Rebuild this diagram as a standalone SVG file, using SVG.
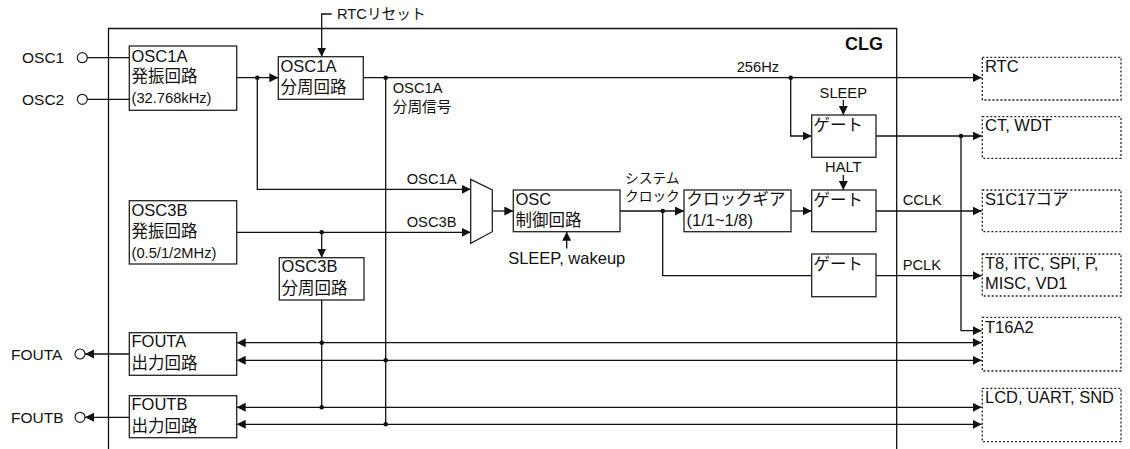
<svg xmlns="http://www.w3.org/2000/svg" width="1130" height="449" viewBox="0 0 1130 449">
<style>
text{font-family:"Liberation Sans","Noto Sans CJK JP",sans-serif;fill:#111}
.b{font-size:16.5px}
.s{font-size:14.7px}
.box{fill:#fff;stroke:#222;stroke-width:1.3}
.dbox{fill:none;stroke:#222;stroke-width:1.3;stroke-dasharray:2 2}
.ln{fill:none;stroke:#111;stroke-width:1.3}
.a{marker-end:url(#ah)}
.aa{marker-end:url(#ah);marker-start:url(#ah)}
.dot{fill:#111}
</style>
<defs>
<marker id="ah" markerUnits="userSpaceOnUse" markerWidth="10" markerHeight="10" refX="9" refY="4.5" orient="auto-start-reverse"><path d="M0,0 L9,4.5 L0,9 z" fill="#111"/></marker>
</defs>

<g id="clg-frame">
<path class="ln" d="M108.5,449 V28.5 H896.7 V449"/>
<text x="883" y="50" text-anchor="end" style="font-size:18px;font-weight:bold">CLG</text>
</g>

<g id="pins">
<text class="b" x="22" y="63" style="font-size:15.5px">OSC1</text>
<circle cx="82.3" cy="57.7" r="5" fill="#fff" stroke="#222" stroke-width="1.2"/>
<text class="b" x="22" y="105" style="font-size:15.5px">OSC2</text>
<circle cx="82.3" cy="99.3" r="5" fill="#fff" stroke="#222" stroke-width="1.2"/>
<text class="b" x="11" y="360" style="font-size:15.5px">FOUTA</text>
<circle cx="80" cy="354" r="5" fill="#fff" stroke="#222" stroke-width="1.2"/>
<text class="b" x="11" y="423" style="font-size:15.5px">FOUTB</text>
<circle cx="80" cy="417.3" r="5" fill="#fff" stroke="#222" stroke-width="1.2"/>
</g>

<g id="connectors">
<path class="ln" d="M87.3,57.7 H129.3"/>
<path class="ln" d="M87.3,99.3 H129.3"/>
<path class="ln a" d="M129.3,354 H85"/>
<path class="ln a" d="M129.3,417.3 H85"/>
<!-- RTC reset -->
<path class="ln a" d="M331.7,14 H321.7 V56.7"/>
<!-- OSC1A osc to divider -->
<path class="ln a" d="M236.7,77.7 H278.3"/>
<path class="ln a" d="M257.3,77.7 V189.3 H470.7"/>
<!-- divider out to RTC -->
<path class="ln a" d="M363.3,77.7 H981.7"/>
<path class="ln" d="M385.7,77.7 V424.3"/>
<path class="ln a" d="M790.7,77.7 V136 H811.7"/>
<path class="ln a" d="M843.3,100 V115"/>
<path class="ln a" d="M876,136 H981.7"/>
<path class="ln a" d="M961,136 V330.7 H981.7"/>
<!-- OSC3B -->
<path class="ln a" d="M236.7,232.3 H470.7"/>
<path class="ln a" d="M321.7,232.3 V257.7"/>
<path class="ln" d="M321.7,300 V407.3"/>
<!-- mux to ctrl -->
<path class="ln a" d="M492.3,211 H513.3"/>
<path class="ln a" d="M566.7,248.5 V231.7"/>
<path class="ln a" d="M620,211 H684"/>
<path class="ln" d="M662.7,211 V275.7 H811.7"/>
<path class="ln a" d="M791,211 H811.7"/>
<path class="ln a" d="M843.3,175 V190"/>
<path class="ln a" d="M876,211 H981.7"/>
<path class="ln a" d="M876,275.7 H981.7"/>
<!-- FOUT buses -->
<path class="ln aa" d="M236.7,342.7 H981.7"/>
<path class="ln aa" d="M236.7,360.3 H981.7"/>
<path class="ln aa" d="M236.7,407.3 H981.7"/>
<path class="ln aa" d="M236.7,424.3 H981.7"/>
<!-- junction dots -->
<circle class="dot" cx="257.3" cy="77.7" r="2.3"/>
<circle class="dot" cx="385.7" cy="77.7" r="2.3"/>
<circle class="dot" cx="790.7" cy="77.7" r="2.3"/>
<circle class="dot" cx="961" cy="136" r="2.3"/>
<circle class="dot" cx="321.7" cy="232.3" r="2.3"/>
<circle class="dot" cx="662.7" cy="211" r="2.3"/>
<circle class="dot" cx="321.7" cy="342.7" r="2.3"/>
<circle class="dot" cx="321.7" cy="407.3" r="2.3"/>
<circle class="dot" cx="385.7" cy="360.3" r="2.3"/>
<circle class="dot" cx="385.7" cy="424.3" r="2.3"/>
<!-- labels -->
<text class="s" x="337" y="18.5">RTCリセット</text>
<text class="s" x="392.7" y="93">OSC1A</text>
<text class="s" x="392.7" y="112">分周信号</text>
<text class="s" x="736.7" y="72">256Hz</text>
<text class="s" x="843.3" y="97.5" text-anchor="middle">SLEEP</text>
<text class="s" x="843.3" y="171.7" text-anchor="middle">HALT</text>
<text class="s" x="406.7" y="183.5">OSC1A</text>
<text class="s" x="406.7" y="227">OSC3B</text>
<text class="b" x="566.7" y="264" text-anchor="middle">SLEEP, wakeup</text>
<text x="625" y="182.5" style="font-size:13.7px">システム</text>
<text x="625" y="200.5" style="font-size:13.7px">クロック</text>
<text class="s" x="902.7" y="205">CCLK</text>
<text class="s" x="902.7" y="269.5">PCLK</text>
</g>

<g id="osc1a-osc">
<rect class="box" x="129.3" y="46" width="107.4" height="64.3"/>
<text class="b" x="131.5" y="62">OSC1A</text>
<text class="b" x="131.5" y="82">発振回路</text>
<text class="s" x="131.5" y="103">(32.768kHz)</text>
</g>
<g id="osc1a-div">
<rect class="box" x="278.3" y="56.7" width="85" height="42.6"/>
<text class="b" x="280.5" y="71.7">OSC1A</text>
<text class="b" x="280.5" y="93">分周回路</text>
</g>
<g id="osc3b-osc">
<rect class="box" x="129.3" y="200.7" width="107.4" height="63.3"/>
<text class="b" x="131.5" y="215.5">OSC3B</text>
<text class="b" x="131.5" y="237">発振回路</text>
<text class="s" x="131.5" y="258.3">(0.5/1/2MHz)</text>
</g>
<g id="osc3b-div">
<rect class="box" x="279.3" y="257.7" width="84.7" height="42.3"/>
<text class="b" x="281.5" y="272">OSC3B</text>
<text class="b" x="281.5" y="294">分周回路</text>
</g>
<g id="fouta">
<rect class="box" x="129.3" y="332.7" width="107.4" height="42.6"/>
<text class="b" x="131.5" y="347">FOUTA</text>
<text class="b" x="131.5" y="369">出力回路</text>
</g>
<g id="foutb">
<rect class="box" x="129.3" y="395.7" width="107.4" height="42"/>
<text class="b" x="131.5" y="410.3">FOUTB</text>
<text class="b" x="131.5" y="432">出力回路</text>
</g>
<g id="mux">
<path class="box" d="M470.7,179.3 L492.3,190 L492.3,231.7 L470.7,243.3 Z"/>
</g>
<g id="osc-ctrl">
<rect class="box" x="513.3" y="190" width="106.7" height="41.7"/>
<text class="b" x="515.5" y="205">OSC</text>
<text class="b" x="515.5" y="226">制御回路</text>
</g>
<g id="clock-gear">
<rect class="box" x="684" y="190" width="107" height="41.7"/>
<text class="b" x="686.5" y="205">クロックギア</text>
<text class="b" x="686.5" y="226">(1/1~1/8)</text>
</g>
<g id="gate1">
<rect class="box" x="811.7" y="115" width="64.3" height="42.3"/>
<text class="b" x="813.5" y="131">ゲート</text>
</g>
<g id="gate2">
<rect class="box" x="811.7" y="190" width="64.3" height="41.7"/>
<text class="b" x="813.5" y="205.5">ゲート</text>
</g>
<g id="gate3">
<rect class="box" x="811.7" y="254" width="64.3" height="42.7"/>
<text class="b" x="813.5" y="269.5">ゲート</text>
</g>

<g id="rtc">
<rect class="dbox" x="982.3" y="57.3" width="138.7" height="42.7"/>
<text class="b" x="985" y="72">RTC</text>
</g>
<g id="ct-wdt">
<rect class="dbox" x="982.3" y="116.7" width="138.7" height="41.6"/>
<text class="b" x="985" y="131">CT, WDT</text>
</g>
<g id="s1c17">
<rect class="dbox" x="982.3" y="190" width="138.7" height="41.7"/>
<text class="b" x="985" y="205">S1C17コア</text>
</g>
<g id="t8">
<rect class="dbox" x="982.3" y="254" width="138.7" height="42"/>
<text class="b" x="985" y="268.5">T8, ITC, SPI, P,</text>
<text class="b" x="985" y="289">MISC, VD1</text>
</g>
<g id="t16a2">
<rect class="dbox" x="982.3" y="317.3" width="138.7" height="53.7"/>
<text class="b" x="985" y="332.5">T16A2</text>
</g>
<g id="lcd">
<rect class="dbox" x="982.3" y="388.3" width="138.7" height="53.4"/>
<text class="b" x="985" y="403">LCD, UART, SND</text>
</g>
</svg>
